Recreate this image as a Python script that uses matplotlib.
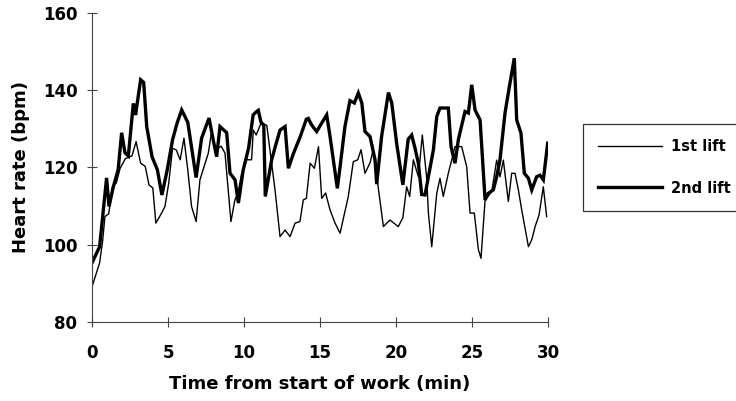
import matplotlib
matplotlib.use("Agg")
import matplotlib.pyplot as plt

# 1st lift (thin line)
t_first = [0.0, 0.5, 0.7, 0.85, 1.1, 1.35, 1.6, 1.85, 2.2, 2.63, 2.9, 3.2, 3.5, 3.75,
           4.0, 4.2, 4.55, 4.8, 5.05, 5.3, 5.55, 5.8, 6.05, 6.3, 6.55, 6.85, 7.1, 7.65,
           7.87, 8.1, 8.5, 8.75, 8.97, 9.14, 9.4, 9.6, 9.85, 10.17, 10.5, 10.61, 10.8,
           11.12, 11.5, 12.04, 12.37, 12.7, 13.03, 13.36, 13.68, 13.9, 14.1,
           14.35, 14.63, 14.9, 15.11, 15.37, 15.66, 15.99, 16.32, 16.86, 17.19, 17.48,
           17.7, 17.96, 18.29, 18.5, 19.17, 19.6, 20.15, 20.45, 20.7, 20.9, 21.14,
           21.47, 21.73, 22.02, 22.13, 22.35, 22.68, 22.89, 23.11, 23.44, 23.66, 23.88,
           24.32, 24.65, 24.87, 25.15, 25.42, 25.59, 25.86, 26.3, 26.62, 26.84, 27.06,
           27.39, 27.61, 27.83, 28.05, 28.27, 28.71, 28.93, 29.15, 29.41, 29.69, 29.91]
hr_first = [89.1, 95.3, 101, 107.3, 108, 115, 116, 119.8, 122.3, 123, 126.7, 121.1, 120.3, 115.5,
            114.7, 105.6, 108, 109.9, 116, 125, 124.5, 122, 127.6, 119.4, 109.9, 106, 116.8, 123.7,
            129.3, 124.6, 125.5, 123.7, 113.8, 106, 111.6, 113.3, 118.5, 122, 122, 129.7, 128.4,
            131.5, 130.9, 114.2, 102.1, 103.8, 102.1, 105.6, 106, 111.6, 112,
            121.1, 119.8, 125.4, 112, 113.4, 109, 105.6, 103, 112.5, 121.5, 122,
            124.6, 118.5, 121.2, 124.6, 104.7, 106.4, 104.7, 107, 115, 112.5, 122,
            117.6, 128.4, 117.2, 108.2, 99.5, 113.3, 117.2, 112.5, 118.5, 121.9, 125.4,
            125.4, 120.2, 108.2, 108.2, 98.7, 96.5, 111.6, 113.8, 121.9, 117.6, 121.9,
            111.2, 118.5, 118.5, 114.2, 109, 99.5, 101.3, 104.7, 107.7, 115, 107.3]

# 2nd lift (thick line)
t_second = [0.0, 0.5, 0.96, 1.12, 1.4, 1.72, 1.95, 2.17, 2.39, 2.72, 2.87, 2.95, 3.2, 3.4,
            3.6, 3.95, 4.3, 4.6, 4.95, 5.3, 5.6, 5.9, 6.3, 6.85, 7.21, 7.7, 7.98, 8.2,
            8.42, 8.86, 9.08, 9.41, 9.63, 9.95, 10.3, 10.6, 10.8, 10.94, 11.12, 11.3, 11.4,
            11.82, 12.1, 12.37, 12.7, 12.92, 13.25, 13.7, 14.1, 14.23, 14.45, 14.78, 15.11,
            15.44, 15.66, 16.14, 16.32, 16.64, 16.97, 17.26, 17.52, 17.75, 17.96, 18.29,
            18.62, 18.73, 19.05, 19.5, 19.72, 20.04, 20.45, 20.8, 21.03, 21.25, 21.47,
            21.69, 21.91, 22.13, 22.46, 22.68, 22.89, 23.44, 23.62, 23.88, 24.1, 24.54,
            24.76, 24.98, 25.2, 25.53, 25.86, 26.07, 26.4, 26.62, 26.84, 27.17, 27.46,
            27.78, 27.94, 28.22, 28.44, 28.71, 28.93, 29.25, 29.47, 29.69, 29.98]
hr_second = [95.3, 99.5, 117.3, 109.9, 115, 119.4, 129, 123.8, 123, 136.6, 133.6, 136, 142.7, 142,
             130.6, 122.8, 119.4, 112.9, 119.4, 127.2, 131.5, 134.9, 131.7, 117.4, 127.6, 132.8, 127, 122.8,
             130.6, 129, 118.5, 116.8, 110.8, 119.4, 125, 133.6, 134.4, 134.8, 131.7, 131, 112.5,
             122, 126, 129.7, 130.6, 119.8, 123.6, 128, 132.5, 132.7, 131, 129.3, 131.5,
             133.6, 128, 114.6, 120.2, 130.6, 137.3, 136.7, 139.3, 136.7, 129.3, 128,
             122, 115.7, 128, 139.4, 136.7, 126.3, 115.5, 127.3, 128.4, 125, 121.1,
             113, 112.9, 117.6, 124.6, 133.2, 135.4, 135.4, 125.4, 121.1, 127.2, 134.5,
             134.1, 141.4, 134.9, 132.3, 111.6, 113.3, 114.2, 117.6, 122, 134.1, 141,
             148.3, 132.3, 128.9, 118.5, 117.2, 114.2, 117.6, 118, 116.8, 126.3]

x_ticks = [0, 5, 10, 15, 20, 25, 30]
y_ticks = [80, 100, 120, 140, 160]
series_labels = ["1st lift", "2nd lift"]

FONT = "DejaVu Sans"

fig = plt.figure(figsize=(7.36, 4.01), dpi=100)
ax = fig.add_axes([0.125, 0.197, 0.6196, 0.7706])

l1, = ax.plot(t_first, hr_first, color="black", lw=1.0, label=series_labels[0])
l2, = ax.plot(t_second, hr_second, color="black", lw=2.4, label=series_labels[1],
              solid_joinstyle="miter")

ax.set_xlim(0, 30)
ax.set_ylim(80, 160)
ax.set_xticks(x_ticks)
ax.set_yticks(y_ticks)
ax.spines["top"].set_visible(False)
ax.spines["right"].set_visible(False)
ax.spines["left"].set_color("#444444")
ax.spines["bottom"].set_color("#444444")
ax.tick_params(direction="inout", length=7, width=0.8, color="#444444")
ax.tick_params(axis="x", pad=12)
ax.tick_params(axis="y", pad=7)
for lab in ax.get_xticklabels() + ax.get_yticklabels():
    lab.set_fontfamily(FONT)
    lab.set_fontweight("bold")
    lab.set_fontsize(12)

ax.set_xlabel("Time from start of work (min)", fontfamily=FONT, fontweight="bold",
              fontsize=13, labelpad=10)
ax.set_ylabel("Heart rate (bpm)", fontfamily=FONT, fontweight="bold",
              fontsize=13, labelpad=9)

leg = fig.legend(handles=[l1, l2], loc="upper left", bbox_to_anchor=(583 / 736, 1 - 124 / 401),
                 frameon=True, fancybox=False, edgecolor="black", borderpad=1.05,
                 borderaxespad=0, handlelength=4.4, handletextpad=0.6, labelspacing=1.8,
                 prop={"family": FONT, "weight": "bold", "size": 10.5})
leg.get_frame().set_linewidth(0.9)

fig.savefig("out.png", dpi=100)
